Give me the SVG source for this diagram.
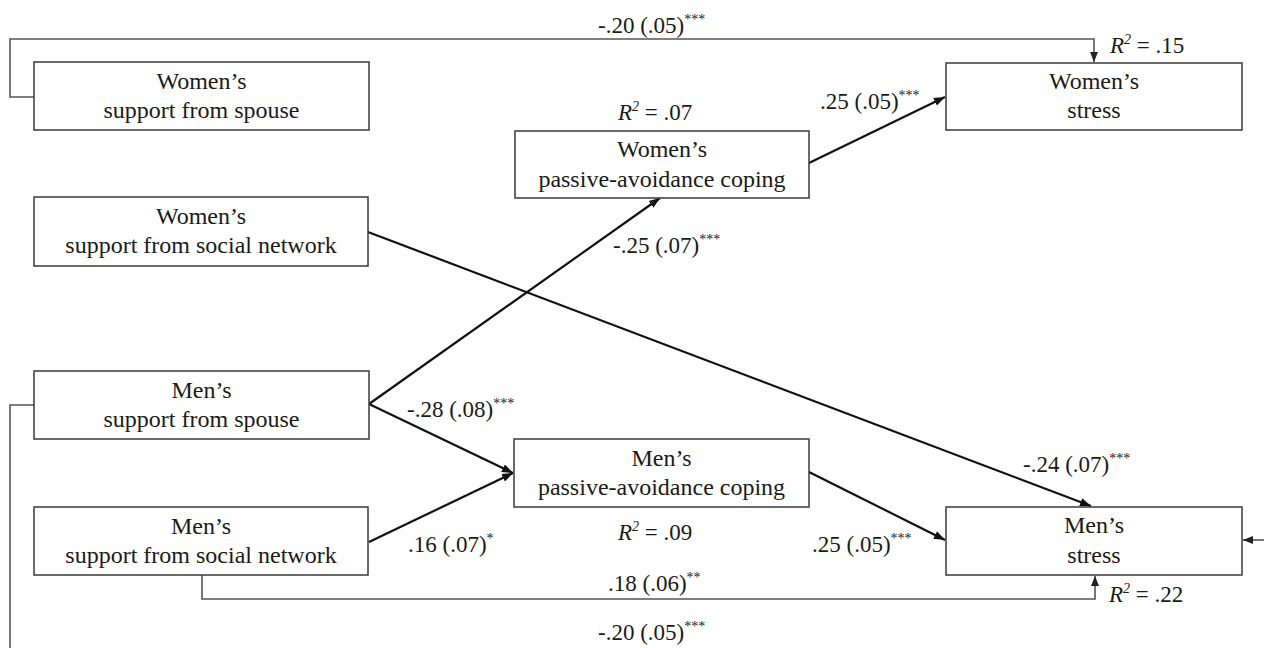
<svg xmlns="http://www.w3.org/2000/svg" width="1264" height="648" viewBox="0 0 1264 648">
  <style>
    .box { fill: #ffffff; stroke: #3a3a3a; stroke-width: 1.5; }
    .t { font-family: "Liberation Serif", "Times New Roman", serif; font-size: 24px; fill: #1a1a1a; text-anchor: middle; }
    .lbl { font-family: "Liberation Serif", "Times New Roman", serif; font-size: 23px; fill: #1a1a1a; }
    .sup { font-size: 14px; }
    .it { font-style: italic; }
    .thick { fill: none; stroke: #111111; stroke-width: 2.2; }
    .thin { fill: none; stroke: #555555; stroke-width: 1.6; }
  </style>
  <defs>
    <marker id="ah" markerUnits="userSpaceOnUse" markerWidth="12" markerHeight="10" refX="11" refY="5" orient="auto">
      <path d="M0,0.8 L11,5 L0,9.2 Z" fill="#111111"/>
    </marker>
    <marker id="ahs" markerUnits="userSpaceOnUse" markerWidth="10" markerHeight="9" refX="10" refY="4.5" orient="auto">
      <path d="M0,0.5 L10,4.5 L0,8.5 Z" fill="#222222"/>
    </marker>
  </defs>
  <rect x="0" y="0" width="1264" height="648" fill="#ffffff"/>

  <g id="connectors">
    <path class="thin" d="M34,97 H10 V39 H1094 V62" marker-end="url(#ahs)"/>
    <path class="thick" d="M809,163 L945,97" marker-end="url(#ah)"/>
    <path class="thick" d="M368,232 L1091,506" marker-end="url(#ah)"/>
    <path class="thick" d="M369,404 L660,198" marker-end="url(#ah)"/>
    <path class="thick" d="M369,404 L513,473" marker-end="url(#ah)"/>
    <path class="thick" d="M369,542 L513,473" marker-end="url(#ah)"/>
    <path class="thick" d="M809,472 L945,540" marker-end="url(#ah)"/>
    <path class="thin" d="M202,575 V599 H1095 V576" marker-end="url(#ahs)"/>
    <path class="thin" d="M34,405 H10 V648"/>
    <path class="thin" d="M1264,540 H1243" marker-end="url(#ahs)"/>
  </g>

  <g id="labels">
    <text class="lbl" x="598" y="33">-.20 (.05)<tspan class="sup" dy="-9">***</tspan></text>
    <text class="lbl" x="1110" y="53"><tspan class="it">R</tspan><tspan class="sup it" dy="-9">2</tspan><tspan dy="9"> = .15</tspan></text>
    <text class="lbl" x="820" y="109">.25 (.05)<tspan class="sup" dy="-9">***</tspan></text>
    <text class="lbl" x="618" y="120"><tspan class="it">R</tspan><tspan class="sup it" dy="-9">2</tspan><tspan dy="9"> = .07</tspan></text>
    <text class="lbl" x="613" y="253">-.25 (.07)<tspan class="sup" dy="-9">***</tspan></text>
    <text class="lbl" x="407" y="417">-.28 (.08)<tspan class="sup" dy="-9">***</tspan></text>
    <text class="lbl" x="1023" y="472">-.24 (.07)<tspan class="sup" dy="-9">***</tspan></text>
    <text class="lbl" x="618" y="540"><tspan class="it">R</tspan><tspan class="sup it" dy="-9">2</tspan><tspan dy="9"> = .09</tspan></text>
    <text class="lbl" x="408" y="552">.16 (.07)<tspan class="sup" dy="-9">*</tspan></text>
    <text class="lbl" x="812" y="552">.25 (.05)<tspan class="sup" dy="-9">***</tspan></text>
    <text class="lbl" x="608" y="591">.18 (.06)<tspan class="sup" dy="-9">**</tspan></text>
    <text class="lbl" x="1109" y="602"><tspan class="it">R</tspan><tspan class="sup it" dy="-9">2</tspan><tspan dy="9"> = .22</tspan></text>
    <text class="lbl" x="598" y="640">-.20 (.05)<tspan class="sup" dy="-9">***</tspan></text>
  </g>

  <g id="women-spouse">
    <rect class="box" x="34" y="62" width="335" height="68"/>
    <text class="t" x="201.5" y="89">Women’s</text>
    <text class="t" x="201.5" y="118">support from spouse</text>
  </g>
  <g id="women-network">
    <rect class="box" x="34" y="197" width="334" height="69"/>
    <text class="t" x="201" y="224">Women’s</text>
    <text class="t" x="201" y="253">support from social network</text>
  </g>
  <g id="men-spouse">
    <rect class="box" x="34" y="371" width="335" height="68"/>
    <text class="t" x="201.5" y="398">Men’s</text>
    <text class="t" x="201.5" y="427">support from spouse</text>
  </g>
  <g id="men-network">
    <rect class="box" x="34" y="507" width="334" height="68"/>
    <text class="t" x="201" y="534">Men’s</text>
    <text class="t" x="201" y="563">support from social network</text>
  </g>
  <g id="women-coping">
    <rect class="box" x="515" y="131" width="294" height="67"/>
    <text class="t" x="662" y="157">Women’s</text>
    <text class="t" x="662" y="187">passive-avoidance coping</text>
  </g>
  <g id="men-coping">
    <rect class="box" x="514" y="439" width="295" height="68"/>
    <text class="t" x="661.5" y="466">Men’s</text>
    <text class="t" x="661.5" y="495">passive-avoidance coping</text>
  </g>
  <g id="women-stress">
    <rect class="box" x="946" y="63" width="296" height="67"/>
    <text class="t" x="1094" y="89">Women’s</text>
    <text class="t" x="1094" y="118">stress</text>
  </g>
  <g id="men-stress">
    <rect class="box" x="946" y="507" width="296" height="68"/>
    <text class="t" x="1094" y="533">Men’s</text>
    <text class="t" x="1094" y="563">stress</text>
  </g>
</svg>
